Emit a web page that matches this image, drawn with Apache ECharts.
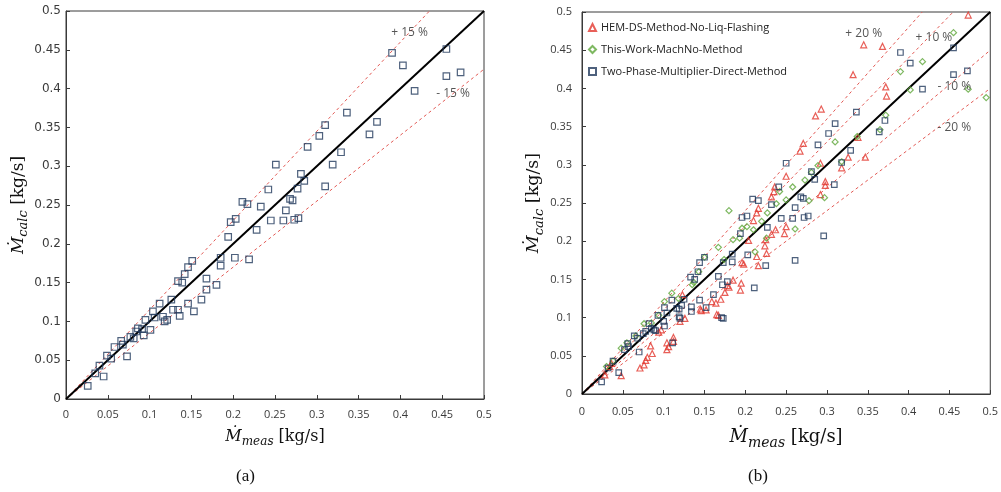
<!DOCTYPE html>
<html>
<head>
<meta charset="utf-8">
<script src="https://cdn.jsdelivr.net/npm/echarts@6/dist/echarts.min.js"></script>
<style>
  html, body { margin: 0; padding: 0; background: #ffffff; }
  #chart { width: 1001px; height: 492px; }
</style>
</head>
<body>
<div id="chart"></div>
<script>
// ---- data: measured vs. calculated mass flow rate [kg/s] ----
const axisTicks = [0, 0.05, 0.1, 0.15, 0.2, 0.25, 0.3, 0.35, 0.4, 0.45, 0.5];

// panel (a): two-phase multiplier, direct method
const twoPhaseA = [
  [0.026,0.017],[0.035,0.033],[0.040,0.043],[0.045,0.029],[0.049,0.056],[0.054,0.052],
  [0.058,0.067],[0.066,0.075],[0.068,0.070],[0.073,0.055],[0.077,0.080],[0.081,0.078],
  [0.084,0.087],[0.086,0.091],[0.091,0.090],[0.093,0.082],[0.095,0.102],[0.101,0.089],
  [0.104,0.113],[0.106,0.105],[0.112,0.123],[0.116,0.106],[0.118,0.100],[0.121,0.102],
  [0.126,0.128],[0.128,0.115],[0.134,0.115],[0.134,0.152],[0.136,0.107],[0.139,0.150],
  [0.142,0.161],[0.146,0.170],[0.146,0.123],[0.151,0.178],[0.153,0.113],[0.162,0.128],
  [0.168,0.155],[0.168,0.141],[0.180,0.147],[0.185,0.182],[0.185,0.172],[0.194,0.209],
  [0.197,0.228],[0.202,0.182],[0.203,0.232],[0.211,0.254],[0.217,0.251],[0.219,0.180],
  [0.228,0.218],[0.233,0.248],[0.242,0.270],[0.245,0.230],[0.251,0.302],[0.260,0.230],
  [0.263,0.243],[0.268,0.258],[0.271,0.256],[0.273,0.231],[0.277,0.271],[0.278,0.233],
  [0.281,0.290],[0.285,0.281],[0.289,0.325],[0.303,0.339],[0.310,0.353],[0.310,0.274],
  [0.319,0.302],[0.329,0.318],[0.336,0.369],[0.363,0.341],[0.372,0.357],[0.390,0.446],
  [0.403,0.430],[0.417,0.397],[0.455,0.451],[0.455,0.416],[0.472,0.421]
];

// panel (b): HEM, no liquid flashing
const hemB = [
  [0.028,0.025],[0.034,0.036],[0.036,0.040],[0.048,0.024],[0.071,0.034],[0.076,0.038],
  [0.078,0.044],[0.080,0.048],[0.084,0.063],[0.086,0.053],[0.094,0.081],[0.097,0.084],
  [0.104,0.058],[0.106,0.062],[0.104,0.067],[0.112,0.069],[0.112,0.074],[0.120,0.095],
  [0.123,0.130],[0.126,0.099],[0.145,0.111],[0.146,0.109],[0.152,0.110],[0.159,0.121],
  [0.164,0.119],[0.165,0.104],[0.167,0.103],[0.170,0.124],[0.175,0.133],[0.178,0.142],
  [0.180,0.140],[0.185,0.149],[0.194,0.136],[0.195,0.145],[0.196,0.172],[0.198,0.170],
  [0.204,0.201],[0.210,0.227],[0.214,0.180],[0.214,0.237],[0.216,0.168],[0.216,0.243],
  [0.224,0.194],[0.225,0.202],[0.226,0.184],[0.232,0.209],[0.232,0.258],[0.235,0.265],
  [0.236,0.271],[0.237,0.215],[0.248,0.210],[0.250,0.219],[0.250,0.285],[0.267,0.318],
  [0.271,0.328],[0.286,0.364],[0.292,0.261],[0.292,0.302],[0.293,0.373],[0.298,0.273],
  [0.298,0.278],[0.318,0.296],[0.326,0.310],[0.332,0.418],[0.338,0.336],[0.345,0.457],
  [0.347,0.310],[0.368,0.455],[0.372,0.402],[0.373,0.390],[0.473,0.496]
];

// panel (b): this work, Mach number method
const machB = [
  [0.030,0.036],[0.038,0.043],[0.048,0.060],[0.055,0.067],[0.066,0.076],[0.076,0.092],
  [0.085,0.093],[0.094,0.103],[0.101,0.121],[0.110,0.132],[0.118,0.125],[0.135,0.143],
  [0.137,0.146],[0.143,0.160],[0.150,0.179],[0.167,0.192],[0.174,0.176],[0.180,0.240],
  [0.185,0.202],[0.193,0.204],[0.196,0.217],[0.202,0.219],[0.210,0.215],[0.212,0.186],
  [0.220,0.226],[0.226,0.204],[0.227,0.237],[0.238,0.249],[0.242,0.265],[0.250,0.254],
  [0.258,0.271],[0.261,0.216],[0.273,0.280],[0.278,0.253],[0.281,0.290],[0.289,0.299],
  [0.297,0.257],[0.310,0.330],[0.318,0.304],[0.337,0.337],[0.365,0.346],[0.372,0.365],
  [0.390,0.422],[0.402,0.398],[0.417,0.435],[0.455,0.473],[0.473,0.399],[0.495,0.388]
];

// panel (b): two-phase multiplier, direct method
const twoPhaseB = [
  [0.024,0.016],[0.032,0.034],[0.038,0.043],[0.045,0.028],[0.052,0.058],[0.056,0.066],
  [0.057,0.062],[0.064,0.076],[0.068,0.073],[0.070,0.055],[0.075,0.079],[0.078,0.082],
  [0.082,0.092],[0.085,0.086],[0.088,0.084],[0.090,0.083],[0.093,0.103],[0.100,0.095],
  [0.101,0.089],[0.101,0.113],[0.104,0.106],[0.111,0.067],[0.110,0.123],[0.116,0.112],
  [0.119,0.111],[0.119,0.101],[0.120,0.099],[0.122,0.116],[0.125,0.124],[0.134,0.108],
  [0.134,0.114],[0.133,0.153],[0.138,0.150],[0.142,0.160],[0.144,0.123],[0.144,0.172],
  [0.150,0.179],[0.152,0.113],[0.161,0.130],[0.167,0.154],[0.172,0.143],[0.171,0.100],
  [0.173,0.099],[0.173,0.172],[0.178,0.147],[0.184,0.183],[0.184,0.173],[0.194,0.210],
  [0.196,0.231],[0.202,0.233],[0.203,0.182],[0.209,0.255],[0.211,0.139],[0.216,0.253],
  [0.225,0.168],[0.227,0.218],[0.232,0.248],[0.241,0.271],[0.244,0.230],[0.250,0.302],
  [0.258,0.230],[0.261,0.244],[0.261,0.175],[0.268,0.258],[0.271,0.256],[0.272,0.231],
  [0.277,0.233],[0.281,0.291],[0.285,0.281],[0.289,0.326],[0.296,0.207],[0.302,0.341],
  [0.309,0.274],[0.310,0.354],[0.318,0.303],[0.329,0.319],[0.336,0.369],[0.364,0.343],
  [0.371,0.358],[0.390,0.447],[0.402,0.433],[0.417,0.399],[0.455,0.453],[0.455,0.418],
  [0.472,0.423]
];

// error bands in percent
const bandsA = [15, -15];
const bandsB = [20, 10, -10, -20];

const seriesNamesB = [
  'HEM-DS-Method-No-Liq-Flashing',
  'This-Work-MachNo-Method',
  'Two-Phase-Multiplier-Direct-Method'
];
</script>
<script>
const axisMax = axisTicks[axisTicks.length - 1];
const tickStep = axisTicks[1] - axisTicks[0];

const NAVY = '#22395c';
const RED = '#e2372e';
const GREEN = '#5ea63a';
const DASH = '#e25a55';
const TICK_FONT = '"Open Sans", "Liberation Sans", sans-serif';
const SERIF = '"DejaVu Serif", "Liberation Serif", serif';

// line y = f*x clipped to the square [0, axisMax]
function ratioLine(f) {
  return f >= 1 ? [[0, 0], [axisMax / f, axisMax]] : [[0, 0], [axisMax, axisMax * f]];
}

// italic M-dot with a lowered italic subscript, then the unit
function titleRich(size) {
  const sub = Math.round(size * 0.75);
  const drop = Math.round(size * 0.32);
  return {
    m: { fontFamily: SERIF, fontStyle: 'italic', fontSize: size, lineHeight: size + 2, color: '#111' },
    s: { fontFamily: SERIF, fontStyle: 'italic', fontSize: sub, lineHeight: sub + 2, padding: [drop * 2, 0, 0, 0], color: '#111' },
    u: { fontFamily: SERIF, fontSize: size, lineHeight: size + 2, color: '#111' }
  };
}

function makeAxis(gridIndex, isX, opts) {
  return {
    gridIndex,
    type: 'value',
    min: 0,
    max: axisMax,
    interval: tickStep,
    name: isX ? '{m|Ṁ}{s|meas}{u| [kg/s]}' : '{m|Ṁ}{s|calc}{u| [kg/s]}',
    nameLocation: 'middle',
    nameGap: opts.nameGap,
    nameRotate: isX ? 0 : 90,
    nameTextStyle: { rich: titleRich(opts.titleSize) },
    axisLine: { show: true, lineStyle: { color: '#3a3a3a', width: 1 } },
    axisTick: { show: true, inside: true, length: 4, lineStyle: { color: '#3a3a3a' } },
    splitLine: { show: false },
    axisLabel: {
      margin: opts.labelMargin,
      fontFamily: opts.labelFont || TICK_FONT,
      fontSize: opts.labelSize || 11,
      color: '#3b3b3b',
      showMinLabel: true,
      showMaxLabel: true,
      formatter: v => String(+v.toFixed(2))
    }
  };
}

function bandSeries(bands, gi) {
  const out = [];
  bands.forEach(p => {
    out.push({
      type: 'line', xAxisIndex: gi, yAxisIndex: gi, silent: true, z: 1,
      symbol: 'none', data: ratioLine(1 + p / 100),
      lineStyle: { color: DASH, width: 1, type: [3, 3] }
    });
  });
  out.push({
    type: 'line', xAxisIndex: gi, yAxisIndex: gi, silent: true, z: 1,
    symbol: 'none', data: ratioLine(1),
    lineStyle: { color: '#000', width: 2 }
  });
  return out;
}

function bandLabels(gi, items) {
  return {
    type: 'scatter', xAxisIndex: gi, yAxisIndex: gi, silent: true, z: 5,
    symbolSize: 0,
    data: items.map(it => ({ name: it.text, value: it.at })),
    label: {
      show: true, position: 'inside', formatter: '{b}',
      fontFamily: TICK_FONT, fontSize: 12, color: '#2a2a2a'
    }
  };
}

function hollow(color) {
  return { color: 'rgba(255,255,255,0)', borderColor: color, borderWidth: 1.2 };
}

const chart = echarts.init(document.getElementById('chart'), null, { renderer: 'canvas' });

chart.setOption({
  animation: false,
  backgroundColor: '#ffffff',
  grid: [
    { left: 66, top: 11, width: 418, height: 388, show: true, borderColor: '#3a3a3a', borderWidth: 1, backgroundColor: 'transparent' },
    { left: 582, top: 12, width: 412, height: 382, show: true, borderColor: '#3a3a3a', borderWidth: 1, backgroundColor: 'transparent' }
  ],
  xAxis: [
    makeAxis(0, true, { nameGap: 29, titleSize: 16, labelMargin: 10 }),
    makeAxis(1, true, { nameGap: 33, titleSize: 18, labelMargin: 12 })
  ],
  yAxis: [
    makeAxis(0, false, { nameGap: 22, titleSize: 17, labelMargin: 5, labelFont: '"DejaVu Sans", sans-serif', labelSize: 12 }),
    makeAxis(1, false, { nameGap: 20, titleSize: 17.5, labelMargin: 10 })
  ],
  legend: {
    orient: 'vertical',
    left: 583,
    top: 17,
    itemGap: 11,
    itemWidth: 7,
    itemHeight: 7,
    data: seriesNamesB,
    textStyle: { fontFamily: TICK_FONT, fontSize: 11, color: '#222' }
  },
  graphic: [
    { type: 'text', left: 236, top: 468, style: { text: '(a)', font: '17px "Liberation Serif", serif', fill: '#111' } },
    { type: 'text', left: 748, top: 468, style: { text: '(b)', font: '17px "Liberation Serif", serif', fill: '#111' } }
  ],
  series: [
    ...bandSeries(bandsA, 0),
    ...bandSeries(bandsB, 1),
    {
      type: 'scatter', xAxisIndex: 0, yAxisIndex: 0, z: 3,
      symbol: 'rect', symbolSize: 6.5, data: twoPhaseA, itemStyle: hollow(NAVY)
    },
    {
      name: seriesNamesB[0], type: 'scatter', xAxisIndex: 1, yAxisIndex: 1, z: 3,
      symbol: 'triangle', symbolSize: 6, data: hemB, itemStyle: hollow(RED)
    },
    {
      name: seriesNamesB[1], type: 'scatter', xAxisIndex: 1, yAxisIndex: 1, z: 3,
      symbol: 'diamond', symbolSize: 6, data: machB, itemStyle: hollow(GREEN)
    },
    {
      name: seriesNamesB[2], type: 'scatter', xAxisIndex: 1, yAxisIndex: 1, z: 3,
      symbol: 'rect', symbolSize: 5.5, data: twoPhaseB, itemStyle: hollow(NAVY)
    },
    bandLabels(0, [
      { text: '+ ' + bandsA[0] + ' %', at: [0.411, 0.472] },
      { text: '- ' + Math.abs(bandsA[1]) + ' %', at: [0.463, 0.393] }
    ]),
    bandLabels(1, [
      { text: '+ ' + bandsB[0] + ' %', at: [0.345, 0.472] },
      { text: '+ ' + bandsB[1] + ' %', at: [0.431, 0.467] },
      { text: '- ' + Math.abs(bandsB[2]) + ' %', at: [0.456, 0.402] },
      { text: '- ' + Math.abs(bandsB[3]) + ' %', at: [0.456, 0.349] }
    ])
  ]
});
</script>
</body>
</html>
